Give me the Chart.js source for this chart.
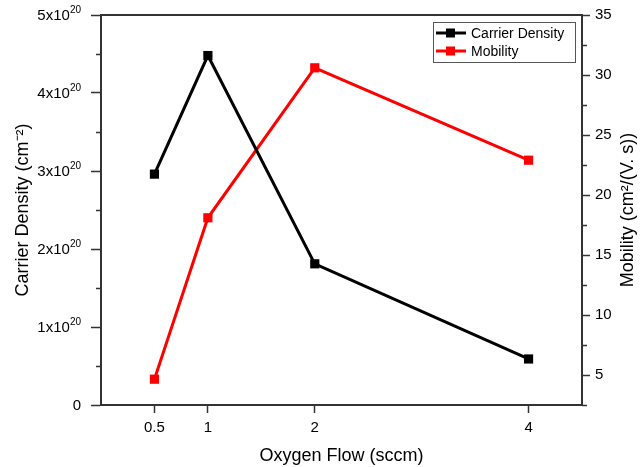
<!DOCTYPE html>
<html>
<head>
<meta charset="utf-8">
<script src="https://cdn.jsdelivr.net/npm/chart.js@4.4.0/dist/chart.umd.min.js"></script>
<style>
  html, body { margin: 0; padding: 0; background: #fff; }
  #wrap { width: 643px; height: 467px; }
</style>
</head>
<body>
<div id="wrap"><canvas id="chart" width="643" height="467"></canvas></div>
<script>
// data
var flow = [0.5, 1, 2, 4]
var carrierDensity = [2.96e20, 4.48e20, 1.81e20, 0.59e20]
var mobility = [4.65, 18.1, 30.6, 22.9]

// axis ticks
var flowTicks = [0.5, 1, 2, 4]
var densityTicks = [0, 1e20, 2e20, 3e20, 4e20, 5e20]
var densityTickLabels = ['0', '1x10^20', '2x10^20', '3x10^20', '4x10^20', '5x10^20']
var mobilityTicks = [5, 10, 15, 20, 25, 30, 35]

var axisColor = '#333'
var fontFam = "'Liberation Sans', Arial, sans-serif"
Chart.defaults.font.family = fontFam
Chart.defaults.color = '#000'

function toPoints(ys) {
  return flow.map(function(x, i) { return { x: x, y: ys[i] } })
}

//frame, minor ticks, superscript labels, right title and legend box
var extras = {
  id: 'extras',
  afterDraw: function(chart) {
    var ctx = chart.ctx
    var a = chart.chartArea
    ctx.save()
    ctx.strokeStyle = axisColor
    ctx.lineWidth = 2
    ctx.beginPath()
    ctx.moveTo(a.left, a.top)
    ctx.lineTo(a.right, a.top)
    ctx.stroke()

    // minor ticks halfway between majors
    ctx.lineWidth = 1.5
    function minors(scale, ticks, dir) {
      for (var i = 0; i < ticks.length - 1; i++) {
        var y = Math.round(scale.getPixelForValue((ticks[i] + ticks[i + 1]) / 2)) + 0.5
        var x0 = dir < 0 ? a.left : a.right
        ctx.beginPath()
        ctx.moveTo(x0, y)
        ctx.lineTo(x0 + dir * 5, y)
        ctx.stroke()
      }
    }
    minors(chart.scales.y, densityTicks, -1)
    minors(chart.scales.y1, [0].concat(mobilityTicks), 1)

    // left tick labels with superscript exponent
    ctx.fillStyle = '#000'
    ctx.textBaseline = 'middle'
    ctx.textAlign = 'left'
    var xr = a.left - 20
    densityTicks.forEach(function(v, i) {
      var parts = densityTickLabels[i].split('^')
      var y = chart.scales.y.getPixelForValue(v)
      ctx.font = '15px ' + fontFam
      var wb = ctx.measureText(parts[0]).width
      var ws = 0
      if (parts[1]) {
        ctx.font = '10px ' + fontFam
        ws = ctx.measureText(parts[1]).width
      }
      ctx.font = '15px ' + fontFam
      ctx.fillText(parts[0], xr - wb - ws, y + 1)
      if (parts[1]) {
        ctx.font = '10px ' + fontFam
        ctx.fillText(parts[1], xr - ws, y - 5)
      }
    })

    // right axis title, reading bottom to top
    ctx.save()
    ctx.translate(628, (a.top + a.bottom) / 2)
    ctx.rotate(-Math.PI / 2)
    ctx.textAlign = 'center'
    ctx.font = '18px ' + fontFam
    ctx.fillText('Mobility (cm²/(V. s))', 0, 0)
    ctx.restore()

    // legend
    var bx = 433, by = 22, bw = 142, bh = 40
    ctx.lineWidth = 1
    ctx.strokeStyle = '#555'
    ctx.strokeRect(bx + 0.5, by + 0.5, bw, bh)
    ctx.font = '14px ' + fontFam
    ctx.textAlign = 'left'
    ctx.textBaseline = 'middle'
    chart.data.datasets.forEach(function(ds, i) {
      var ry = by + 11 + i * 18
      ctx.strokeStyle = ds.borderColor
      ctx.lineWidth = 3
      ctx.beginPath()
      ctx.moveTo(bx + 3, ry)
      ctx.lineTo(bx + 33, ry)
      ctx.stroke()
      ctx.fillStyle = ds.backgroundColor
      ctx.fillRect(bx + 13, ry - 4.5, 9, 9)
      ctx.fillStyle = '#000'
      ctx.fillText(ds.label, bx + 38, ry + 1)
    })
    ctx.restore()
  }
}

new Chart(document.getElementById('chart'), {
  type: 'line',
  data: {
    datasets: [{
      label: 'Carrier Density',
      data: toPoints(carrierDensity),
      yAxisID: 'y',
      borderColor: '#000',
      backgroundColor: '#000',
      borderWidth: 3,
      pointStyle: 'rect',
      pointRadius: 6.5,
      pointBorderWidth: 0,
      tension: 0
    }, {
      label: 'Mobility',
      data: toPoints(mobility),
      yAxisID: 'y1',
      borderColor: '#ff0000',
      backgroundColor: '#ff0000',
      borderWidth: 3,
      pointStyle: 'rect',
      pointRadius: 6.5,
      pointBorderWidth: 0,
      tension: 0
    }]
  },
  options: {
    responsive: false,
    animation: false,
    layout: { padding: { top: 15, left: 0, right: 0, bottom: 0 } },
    plugins: {
      legend: { display: false },
      tooltip: { enabled: false }
    },
    scales: {
      x: {
        type: 'linear',
        min: 0,
        max: 4.5,
        afterBuildTicks: function(s) { s.ticks = flowTicks.map(function(v) { return { value: v } }) },
        afterFit: function(s) { s.height = 62 },
        ticks: { font: { size: 15 }, padding: 6, maxRotation: 0 },
        grid: { drawOnChartArea: false, tickLength: 8, tickColor: axisColor, tickWidth: 1.5 },
        border: { color: axisColor, width: 2 },
        title: { display: true, text: 'Oxygen Flow (sccm)', font: { size: 18 }, padding: { top: 4, bottom: 0 } }
      },
      y: {
        position: 'left',
        min: 0,
        max: 5e20,
        afterBuildTicks: function(s) { s.ticks = densityTicks.map(function(v) { return { value: v } }) },
        afterFit: function(s) { s.width = 101 },
        ticks: { display: false },
        grid: { drawOnChartArea: false, tickLength: 10, tickColor: axisColor, tickWidth: 1.5 },
        border: { color: axisColor, width: 2 },
        title: { display: true, text: 'Carrier Density (cm⁻²)', font: { size: 18 }, padding: { top: 12, bottom: 0 } }
      },
      y1: {
        position: 'right',
        min: 2.5,
        max: 35,
        afterBuildTicks: function(s) { s.ticks = mobilityTicks.map(function(v) { return { value: v } }) },
        afterFit: function(s) { s.width = 61 },
        ticks: { font: { size: 15 }, padding: 5 },
        grid: { drawOnChartArea: false, tickLength: 8, tickColor: axisColor, tickWidth: 1.5 },
        border: { color: axisColor, width: 2 },
        title: { display: false }
      }
    }
  },
  plugins: [extras]
})
</script>
</body>
</html>
